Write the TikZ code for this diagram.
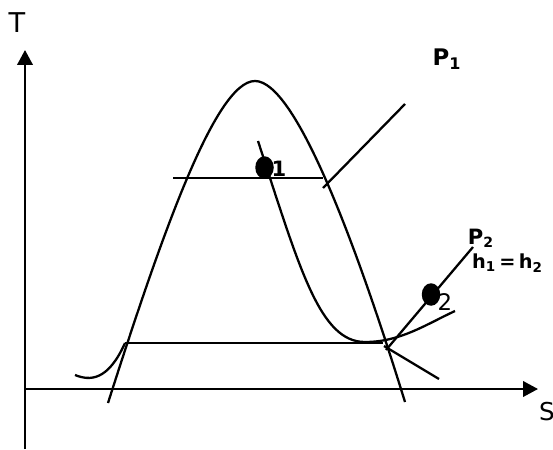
\documentclass[tikz,border=0pt]{standalone}
\usepackage{fontspec}
\setmainfont{DejaVu Sans}
\usetikzlibrary{arrows.meta,shapes.geometric}
\begin{document}
\begin{tikzpicture}[x=0.02cm,y=-0.02cm,line width=1.3pt,
    axis/.style={-{Triangle[length=0.3cm,width=0.31cm]}},
    dot/.style={ellipse,fill,inner sep=0pt,minimum width=0.37cm,minimum height=0.45cm},
    lbl/.style={inner sep=0pt}]
  \useasboundingbox (0,0) rectangle (553,449);
  % axes
  \coordinate (Tb) at (25,449);
  \coordinate (Tt) at (25,50);
  \coordinate (O) at (25,389);
  \coordinate (Se) at (538,389);
  \draw[axis] (Tb) -- (Tt);
  \draw[axis] (O) -- (Se);
  \node[lbl] (T) at (17,23) {\fontsize{15.5}{18}\selectfont T};
  \node[lbl] (S) at (547,412) {\fontsize{14}{16}\selectfont S};

  % saturation dome
  \coordinate (Dl) at (108,403);
  \coordinate (Dt) at (255,81);
  \coordinate (Dr) at (405,402);
  \draw (Dl) .. controls (160,240) and (215,81) .. (Dt)
             .. controls (295,81) and (355,240) .. (Dr);

  % tie lines
  \coordinate (Ua) at (173,178);
  \coordinate (Ub) at (323,178);
  \coordinate (La) at (125,343);
  \coordinate (Lb) at (383,343);
  \draw (Ua) -- (Ub);
  \draw (La) -- (Lb);

  % isenthalpic curve
  \coordinate (Ha) at (258,141);
  \coordinate (Hm) at (365,342);
  \coordinate (Hb) at (455,311);
  \draw (Ha) .. controls (300,270) and (320,342) .. (Hm)
             .. controls (400,342) and (425,325) .. (Hb);
  \coordinate (Ka) at (75,375);
  \draw (Ka) .. controls (90,381) and (108,381) .. (La);

  % isobars
  \coordinate (Pa) at (323,188);
  \coordinate (Pb) at (405,104);
  \draw (Pa) -- (Pb);
  \coordinate (Qa) at (386,350);
  \coordinate (Qb) at (473,247);
  \coordinate (Ra) at (384,346);
  \coordinate (Rb) at (439,379);
  \draw (Qa) -- (Qb);
  \draw (Ra) -- (Rb);

  % states
  \node[dot] (p1) at (264.5,167.5) {};
  \node[dot] (p2) at (431,294.5) {};
  \node[lbl] (n1) at (279,169) {\fontsize{12}{14}\selectfont\bfseries 1};
  \node[lbl] (n2) at (445,302) {\fontsize{13}{15}\selectfont 2};

  % labels
  \node[lbl] (P1) at (447,59) {\fontsize{13}{15}\selectfont\bfseries P\textsubscript{1}};
  \node[lbl] (P2) at (481,238) {\fontsize{12}{14}\selectfont\bfseries P\textsubscript{2}};
  \node[lbl,anchor=west] (h) at (471,263) {\fontsize{11}{13}\selectfont\bfseries h\textsubscript{1}\,=\,h\textsubscript{2}};
\end{tikzpicture}
\end{document}
